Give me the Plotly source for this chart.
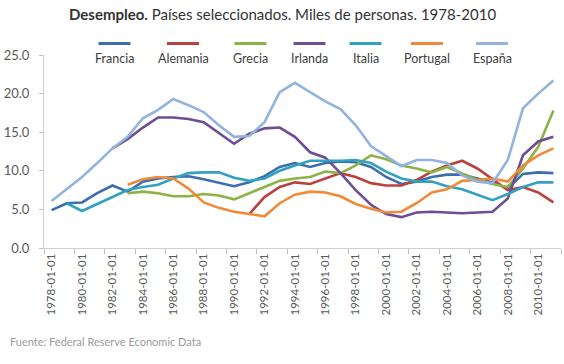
import plotly.graph_objects as go

categorias = [f"{a}-01-01" for a in range(1978, 2012)]

paises = ["Francia", "Alemania", "Grecia", "Irlanda", "Italia", "Portugal", "España"]

francia = [4.9, 5.8, 5.9, 7.1, 8.1, 7.3, 8.6, 9.0, 9.2, 9.3, 8.9, 8.4, 8.0, 8.5, 9.3, 10.5, 11.0,
           10.5, 11.0, 11.2, 11.1, 10.5, 9.2, 8.3, 8.6, 9.2, 9.5, 9.5, 9.0, 8.5, 7.7, 9.6, 9.8, 9.7]
alemania = [None] * 13 + [4.4, 6.6, 7.9, 8.5, 8.3, 9.0, 9.7, 9.2, 8.4, 8.1, 8.1, 8.8, 9.9, 10.7,
                          11.3, 10.3, 8.9, 7.5, 7.9, 7.2, 5.9]
grecia = [None] * 5 + [7.1, 7.3, 7.1, 6.7, 6.7, 7.0, 6.8, 6.3, 7.1, 7.9, 8.7, 9.0, 9.2, 9.9, 9.7,
                       10.7, 12.0, 11.5, 10.7, 10.3, 9.8, 10.5, 9.7, 8.8, 8.3, 7.9, 10.3, 13.1, 17.8]
irlanda = [None] * 4 + [12.9, 14.1, 15.6, 16.9, 16.9, 16.7, 16.3, 14.9, 13.5, 14.8, 15.5, 15.6, 14.4,
                        12.4, 11.7, 9.7, 7.5, 5.6, 4.4, 4.0, 4.6, 4.7, 4.6, 4.5, 4.6, 4.7, 6.4, 12.0,
                        13.8, 14.4]
italia = [None] + [5.8, 4.8, 5.7, 6.6, 7.5, 7.9, 8.2, 9.0, 9.7, 9.8, 9.8, 9.1, 8.7, 9.0, 10.0, 10.7,
                   11.3, 11.3, 11.3, 11.4, 11.0, 9.9, 9.0, 8.6, 8.6, 8.0, 7.6, 6.9, 6.2, 7.0, 7.9,
                   8.5, 8.5]
portugal = [None] * 5 + [8.2, 8.9, 9.2, 9.0, 7.7, 5.9, 5.2, 4.7, 4.4, 4.1, 5.8, 6.9, 7.3, 7.2, 6.7,
                         5.7, 5.1, 4.6, 4.7, 5.8, 7.2, 7.6, 8.7, 8.8, 9.0, 8.6, 10.7, 12.0, 12.9]
espana = [6.1, 7.7, 9.2, 11.0, 12.9, 14.4, 16.8, 17.9, 19.3, 18.5, 17.6, 15.9, 14.4, 14.5, 16.3,
          20.2, 21.4, 20.2, 19.0, 18.0, 15.9, 13.2, 11.9, 10.6, 11.4, 11.4, 11.0, 9.4, 8.6, 8.4,
          11.4, 18.1, 20.0, 21.7]

series = [francia, alemania, grecia, irlanda, italia, portugal, espana]
colores = ["#3C6DAE", "#B9423F", "#8DB246", "#6D4E94", "#33A1C0", "#F08A38", "#93B3DF"]

# legend placement (pixel centres of each sample, as in the original)
leyenda_x = [114.5, 183, 250.5, 309.5, 365.5, 427, 492]

W, H = 564, 364
L, R, T, B = 44, 3, 55, 116
pw, ph = W - L - R, H - T - B

def px2x(px):
    return (px - L) / pw

def py2y(py):
    return (H - B - py) / ph

fig = go.Figure()
for nombre, vals, col in zip(paises, series, colores):
    fig.add_trace(go.Scatter(x=categorias, y=vals, mode="lines", name=nombre,
                             line=dict(color=col, width=2.6), showlegend=False,
                             hoverinfo="x+y+name"))

shapes = []
annotations = []
for nombre, col, cx in zip(paises, colores, leyenda_x):
    shapes.append(dict(type="line", xref="paper", yref="paper",
                       x0=px2x(cx - 16), x1=px2x(cx + 16), y0=py2y(43.5), y1=py2y(43.5),
                       line=dict(color=col, width=3)))
    annotations.append(dict(xref="paper", yref="paper", x=px2x(cx), y=py2y(58),
                            text=nombre, showarrow=False, xanchor="center", yanchor="middle",
                            font=dict(family="Lato", size=12.5, color="#404040")))

annotations.append(dict(xref="paper", yref="paper", x=px2x(282), y=py2y(14),
                        text="<b>Desempleo.</b> Países seleccionados. Miles de personas. 1978-2010",
                        showarrow=False, xanchor="center", yanchor="middle",
                        font=dict(family="Lato", size=15, color="#333333")))
annotations.append(dict(xref="paper", yref="paper", x=px2x(8), y=py2y(341),
                        text="Fuente: Federal Reserve Economic Data",
                        showarrow=False, xanchor="left", yanchor="middle",
                        font=dict(family="Lato", size=11, color="#9A9A9A")))

fig.update_layout(
    width=W, height=H,
    margin=dict(l=L, r=R, t=T, b=B, pad=0),
    plot_bgcolor="white", paper_bgcolor="white",
    shapes=shapes, annotations=annotations,
    showlegend=False,
    xaxis=dict(type="category", range=[-0.5, 33.5], tickmode="linear", tick0=0, dtick=2,
               tickson="boundaries", ticks="outside", ticklen=5, tickcolor="#BFBFBF",
               showgrid=False, showline=True, linecolor="#CFCFCF", linewidth=1,
               tickangle=-90, tickfont=dict(family="Lato", size=11.5, color="#595959"),
               zeroline=False),
    yaxis=dict(range=[0, 25], tickmode="linear", tick0=0, dtick=5, tickformat=".1f",
               ticks="outside", ticklen=4, tickcolor="#BFBFBF", showgrid=False,
               showline=True, linecolor="#CFCFCF", linewidth=1, zeroline=False,
               ticklabelstandoff=7,
               tickfont=dict(family="Lato", size=13, color="#595959")),
)

fig.write_html("out.html", config={"displayModeBar": False},
               post_script="document.body.style.margin='0';document.body.style.padding='0';")
